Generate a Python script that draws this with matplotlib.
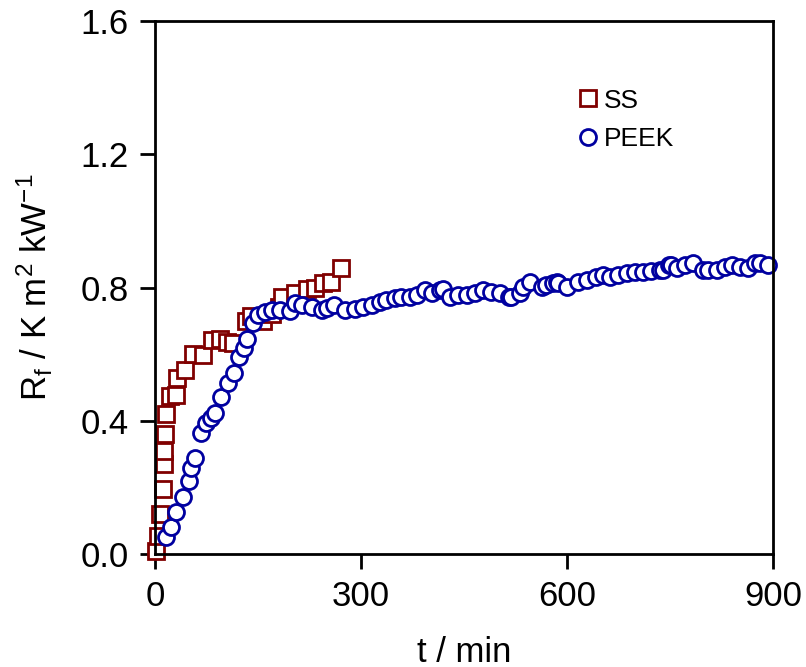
import numpy as np
import matplotlib
matplotlib.use("Agg")
import matplotlib.pyplot as plt

plt.rcParams['font.family'] = ['Liberation Sans', 'DejaVu Sans']
plt.rcParams['mathtext.fontset'] = 'custom'
plt.rcParams['mathtext.rm'] = 'Liberation Sans'
plt.rcParams['mathtext.it'] = 'Liberation Sans:italic'

# SS (stainless steel) fouling resistance
ss_t = [1, 5, 8, 11, 13, 13, 15, 16, 22, 30, 32, 44, 56, 70, 83, 95, 105, 114,
        133, 140, 158, 170, 180, 185, 204, 222, 233, 245, 257, 271]
ss_rf = [0.01, 0.054, 0.12, 0.194, 0.27, 0.31, 0.36, 0.42, 0.474, 0.477, 0.527,
         0.552, 0.60, 0.597, 0.642, 0.645, 0.637, 0.634, 0.70, 0.715, 0.70,
         0.72, 0.74, 0.771, 0.785, 0.795, 0.80, 0.813, 0.818, 0.858]

# PEEK fouling resistance
peek_t = [16, 24, 31, 41, 49, 53, 58, 67, 75, 81, 87, 96, 107, 115, 123, 129,
          134, 143, 150, 160, 170, 182, 197, 204, 214, 228, 243, 250, 260,
          277, 291, 303, 316, 328, 337, 350, 359, 371, 381, 393, 403, 415, 419,
          430, 442, 454, 466, 478, 490, 502, 515, 519, 532, 536, 546, 563, 570,
          580, 585, 587, 600, 616, 629, 643, 653, 663, 675, 687, 699, 711, 723,
          735, 740, 748, 752, 760, 772, 784, 798, 806, 818, 830, 840, 852, 864,
          874, 881, 893]
peek_rf = [0.052, 0.082, 0.127, 0.172, 0.220, 0.257, 0.287, 0.362, 0.392, 0.407,
           0.424, 0.472, 0.512, 0.544, 0.592, 0.617, 0.645, 0.692, 0.718, 0.727,
           0.732, 0.732, 0.730, 0.753, 0.748, 0.742, 0.732, 0.738, 0.748,
           0.732, 0.736, 0.742, 0.748, 0.758, 0.763, 0.768, 0.772, 0.772, 0.778,
           0.793, 0.783, 0.793, 0.795, 0.772, 0.778, 0.778, 0.783, 0.793, 0.787,
           0.783, 0.772, 0.772, 0.783, 0.802, 0.818, 0.802, 0.808, 0.813, 0.818,
           0.813, 0.802, 0.818, 0.823, 0.833, 0.838, 0.833, 0.838, 0.843, 0.848,
           0.848, 0.851, 0.853, 0.853, 0.868, 0.868, 0.858, 0.868, 0.873, 0.853,
           0.853, 0.853, 0.863, 0.868, 0.863, 0.858, 0.873, 0.873, 0.868]

fig = plt.figure(figsize=(8.06, 6.67), dpi=100)
ax = fig.add_axes([0.1923, 0.1694, 0.7667, 0.7991])

ax.plot(ss_t, ss_rf, 's', ms=11.5, mfc='white', mec='#800000', mew=2,
        label='SS', clip_on=False, zorder=3)
ax.plot(peek_t, peek_rf, 'o', ms=11.5, mfc='white', mec='#0000A0', mew=2,
        label='PEEK', clip_on=False, zorder=4)

ax.set_xlim(0, 900)
ax.set_ylim(0, 1.6)
ax.set_xticks([0, 300, 600, 900])
ax.set_yticks([0.0, 0.4, 0.8, 1.2, 1.6])
ax.set_yticklabels(['0.0', '0.4', '0.8', '1.2', '1.6'])
ax.tick_params(direction='out', length=11, width=2, labelsize=25, pad=8)
for s in ax.spines.values():
    s.set_linewidth(2)
    s.set_zorder(5)

ax.set_xlabel('t / min', fontsize=25, labelpad=16)
ax.set_ylabel(r'R$_{\rm f}$ / K m$^{2}$ kW$^{-1}$', fontsize=25, labelpad=18)

ax.legend(loc='upper left', bbox_to_anchor=(0.667, 0.893), frameon=False,
          fontsize=19, handlelength=0.8, handletextpad=0.2, labelspacing=0.55,
          borderaxespad=0)

fig.savefig('out.png', dpi=100)
